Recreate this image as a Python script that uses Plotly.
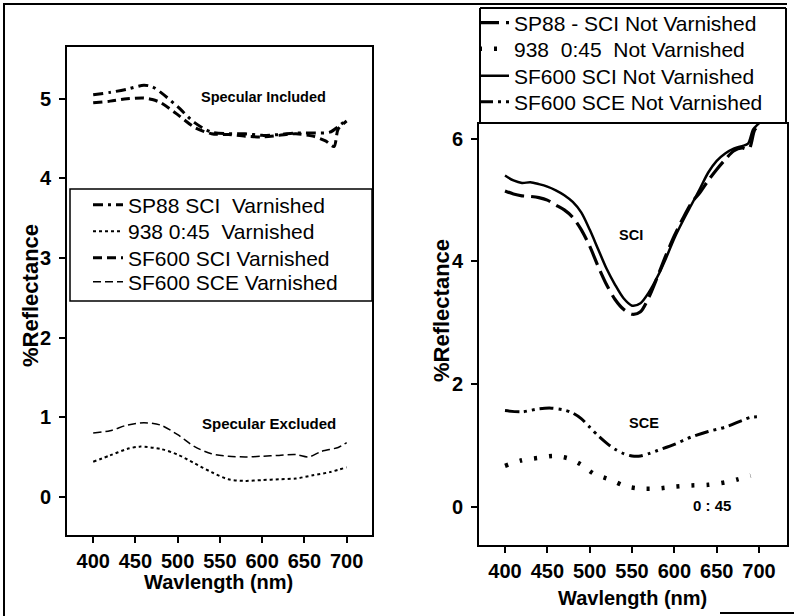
import plotly.graph_objects as go

W, H = 794, 616

# ---------------- Left panel (Varnished) ----------------
wl_sp88_v = [400, 420, 440, 460, 470, 480, 500, 520, 540, 560, 580, 600, 620, 640, 660, 680, 690, 700]
sp88_sci_v = [5.05, 5.08, 5.12, 5.17, 5.15, 5.08, 4.90, 4.70, 4.58, 4.56, 4.56, 4.54, 4.55, 4.57, 4.57, 4.58, 4.65, 4.74]

wl_938_v = [400, 420, 440, 455, 480, 500, 520, 540, 560, 580, 600, 620, 640, 660, 680, 700]
m938_v = [0.44, 0.52, 0.60, 0.63, 0.60, 0.53, 0.42, 0.31, 0.22, 0.20, 0.21, 0.22, 0.23, 0.27, 0.31, 0.37]

wl_sf_sci_v = [400, 420, 440, 460, 470, 480, 500, 520, 540, 560, 580, 600, 620, 640, 660, 675, 685, 690, 700]
sf600_sci_v = [4.95, 4.97, 5.00, 5.01, 4.99, 4.95, 4.80, 4.64, 4.56, 4.55, 4.53, 4.52, 4.54, 4.56, 4.53, 4.47, 4.40, 4.62, 4.72]

wl_sf_sce_v = [400, 420, 440, 460, 480, 500, 520, 540, 560, 580, 600, 620, 640, 655, 670, 690, 700]
sf600_sce_v = [0.80, 0.83, 0.90, 0.93, 0.90, 0.78, 0.63, 0.54, 0.51, 0.50, 0.51, 0.52, 0.53, 0.50, 0.57, 0.62, 0.68]

# ---------------- Right panel (Not varnished) ----------------
wl_sci_n = [400, 410, 420, 430, 440, 450, 460, 470, 480, 490, 500, 510, 520, 530, 540, 550, 560, 570,
            580, 590, 600, 610, 620, 630, 640, 650, 660, 670, 680, 688, 695, 700]
sp88_sci_n = [5.15, 5.10, 5.07, 5.06, 5.04, 5.00, 4.92, 4.84, 4.72, 4.52, 4.25, 3.92, 3.62, 3.38, 3.22, 3.14, 3.18, 3.42,
              3.75, 4.10, 4.42, 4.70, 4.95, 5.12, 5.32, 5.50, 5.66, 5.80, 5.85, 5.83, 6.15, 6.20]
wl_sf_sci_n = [400, 410, 420, 430, 440, 450, 460, 470, 480, 490, 500, 510, 520, 530, 540, 550, 560, 570,
               580, 590, 600, 610, 620, 630, 640, 650, 660, 670, 680, 687, 693, 700]
sf600_sci_n = [5.40, 5.32, 5.28, 5.29, 5.26, 5.22, 5.16, 5.08, 4.97, 4.80, 4.52, 4.20, 3.88, 3.62, 3.40, 3.28, 3.32, 3.50,
               3.75, 4.05, 4.38, 4.66, 4.92, 5.18, 5.45, 5.64, 5.76, 5.84, 5.88, 5.92, 6.15, 6.25]

wl_938_n = [400, 420, 440, 457, 475, 490, 505, 525, 542, 560, 580, 600, 620, 640, 660, 675, 690]
m938_n = [0.67, 0.76, 0.80, 0.83, 0.79, 0.69, 0.54, 0.44, 0.34, 0.30, 0.30, 0.33, 0.35, 0.36, 0.40, 0.45, 0.51]

wl_sce_n = [400, 420, 440, 455, 470, 480, 490, 500, 510, 520, 530, 540, 550, 560, 570, 580, 600, 620, 640, 660, 680, 690, 700]
sf600_sce_n = [1.57, 1.55, 1.60, 1.61, 1.58, 1.53, 1.44, 1.30, 1.16, 1.04, 0.94, 0.87, 0.83, 0.83, 0.87, 0.92, 1.02, 1.14,
               1.23, 1.30, 1.41, 1.46, 1.47]

x_ticks = [400, 450, 500, 550, 600, 650, 700]

FONT = "Liberation Sans, Arial, sans-serif"


def px(x):
    return x / W


def py(y):
    return 1 - y / H


fig = go.Figure()

# (x data, y data, name, dash, width, xaxis, yaxis, legend left px, legend row centre px)
series = [
    (wl_sp88_v, sp88_sci_v, "SP88 SCI  Varnished", "10px,5px,3px,5px", 3, "x", "y", 88, 205),
    (wl_938_v, m938_v, "938 0:45  Varnished", "3px,3px", 2, "x", "y", 88, 231.5),
    (wl_sf_sci_v, sf600_sci_v, "SF600 SCI Varnished", "9px,5px", 3, "x", "y", 88, 258),
    (wl_sf_sce_v, sf600_sce_v, "SF600 SCE Varnished", "8px,4px", 1.5, "x", "y", 88, 282),
    (wl_sci_n, sp88_sci_n, "SP88 - SCI Not Varnished", "20px,7px", 3.2, "x2", "y2", 474, 23),
    (wl_938_n, m938_n, "938  0:45  Not Varnished", "3px,12px", 4.5, "x2", "y2", 474, 49),
    (wl_sf_sci_n, sf600_sci_n, "SF600 SCI Not Varnished", "solid", 2.5, "x2", "y2", 474, 76),
    (wl_sce_n, sf600_sce_n, "SF600 SCE Not Varnished", "14px,5px,3px,5px,3px,5px", 3, "x2", "y2", 474, 102),
]

legend_layouts = {}
for i, (xs, ys, name, dash, width, xa, ya, lx, ly) in enumerate(series):
    lid = "legend" if i == 0 else f"legend{i + 1}"
    fig.add_trace(go.Scatter(x=xs, y=ys, mode="lines", name=name,
                             line=dict(color="black", width=width, dash=dash, shape="spline", smoothing=0.8),
                             xaxis=xa, yaxis=ya, legend=lid))
    legend_layouts[lid] = dict(x=px(lx), y=py(ly), xanchor="left", yanchor="middle",
                               bgcolor="rgba(255,255,255,0)", borderwidth=0,
                               font=dict(family=FONT, size=21, color="black"), itemwidth=30)

axis_common = dict(showline=True, mirror=True, linecolor="black", linewidth=2, showgrid=False, zeroline=False,
                   ticks="outside", ticklen=6, tickwidth=1.5, tickcolor="black",
                   tickfont=dict(family=FONT, size=20, color="black", weight="bold"))

fig.update_layout(
    width=W, height=H, autosize=False,
    margin=dict(l=0, r=0, t=0, b=0),
    paper_bgcolor="white", plot_bgcolor="white",
    showlegend=True,
    xaxis=dict(domain=[px(67), px(372)], range=[369, 730], tickvals=x_ticks, anchor="y",
               ticklabelstandoff=1, **axis_common),
    yaxis=dict(domain=[py(535), py(47)], range=[-0.48, 5.65], dtick=1, anchor="x",
               ticklabelstandoff=4, **axis_common),
    xaxis2=dict(domain=[px(479), px(787)], range=[369.3, 733], tickvals=x_ticks, anchor="y2",
                ticklabelstandoff=1, **axis_common),
    yaxis2=dict(domain=[py(545), py(124)], range=[-0.62, 6.24], dtick=2, anchor="x2",
                ticklabelstandoff=4, **axis_common),
    **legend_layouts,
)


def hline(x0, x1, y, w=2, c="black"):
    return dict(type="line", xref="paper", yref="paper", x0=px(x0), x1=px(x1), y0=py(y), y1=py(y),
                line=dict(color=c, width=w), layer="above")


def vline(x, y0, y1, w=2, c="black"):
    return dict(type="line", xref="paper", yref="paper", x0=px(x), x1=px(x), y0=py(y0), y1=py(y1),
                line=dict(color=c, width=w), layer="above")


shapes = [
    # outer frame
    hline(3, 787, 4),
    vline(4, 4, 616),
    hline(720, 794, 613),
    # left legend box (white fill hides the plot area behind it)
    dict(type="rect", xref="paper", yref="paper", x0=px(70), x1=px(372), y0=py(301), y1=py(189),
         line=dict(color="black", width=1.5), fillcolor="white", layer="above"),
    # right legend box
    hline(480, 786, 8, 2),
    vline(480, 8, 124, 2),
    vline(786, 8, 124, 2),
]
fig.update_layout(shapes=shapes)


def ann(text, x, y, size, angle=0):
    return dict(text=text, x=px(x), y=py(y), xref="paper", yref="paper", showarrow=False,
                xanchor="center", yanchor="middle", textangle=angle,
                font=dict(family=FONT, size=size, color="black", weight="bold"))


annotations = [
    ann("Specular Included", 263, 97, 14.5),
    ann("Specular Excluded", 269, 423, 15),
    ann("SCI", 631, 235, 14.5),
    ann("SCE", 644, 423, 14.5),
    ann("0 : 45", 712, 505, 15),
    ann("%Reflectance", 30, 296, 22, -90),
    ann("%Reflectance", 441, 310, 22, -90),
    ann("Wavlength (nm)", 218, 582, 20),
    ann("Wavlength (nm)", 632, 598, 20),
]
fig.update_layout(annotations=annotations)

fig.write_html("out.html", config={"displayModeBar": False},
               post_script="document.body.style.margin='0';")
